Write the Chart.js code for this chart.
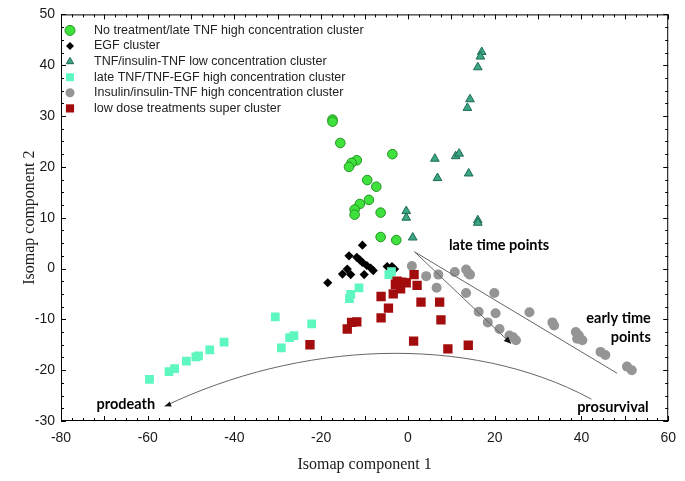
<!DOCTYPE html>
<html>
<head>
<meta charset="utf-8">
<script src="https://cdn.jsdelivr.net/npm/chart.js@4.4.0/dist/chart.umd.min.js"></script>
<style>
    html, body { margin: 0; padding: 0; background: #fff; }
    #wrap { width: 685px; height: 481px; }
</style>
</head>
<body>
<div id="wrap"><canvas id="isomap-chart" width="685" height="481"></canvas></div>
<script>
// cluster points, [component 1, component 2]
var noTreatment = [[-17.4, 29.3], [-17.4, 28.9], [-15.6, 24.7], [-3.6, 22.5], [-11.8, 21.3], [-13.0, 20.8],
    [-13.6, 20.0], [-9.4, 17.4], [-7.3, 16.1], [-9.0, 13.5], [-11.1, 12.7], [-12.3, 11.6], [-12.3, 10.6],
    [-6.3, 11.0], [-6.3, 6.2], [-2.7, 5.6]];
var egfCluster = [[-10.5, 4.6], [-13.6, 2.5], [-11.8, 2.2], [-11.1, 1.7], [-10.5, 1.2], [-9.5, 0.6], [-8.6, 0.1],
    [-8.0, -0.4], [-4.8, 0.4], [-3.7, 0.4], [-3.1, -0.1], [-14.0, -0.1], [-15.1, -1.1], [-13.2, -1.2],
    [-10.1, -1.2], [-18.5, -2.8]];
var tnfLow = [[17.0, 42.6], [16.7, 41.7], [16.1, 39.6], [14.3, 33.3], [13.7, 31.6], [6.2, 21.6], [11.0, 22.1],
    [11.8, 22.6], [6.8, 17.8], [14.0, 18.7], [-0.4, 11.3], [-0.4, 10.0], [16.1, 9.5], [16.1, 9.0], [1.1, 6.1]];
var lateTnfHigh = [[-59.6, -21.8], [-55.1, -20.3], [-53.8, -19.7], [-51.1, -18.2], [-48.9, -17.4], [-48.3, -17.2],
    [-45.7, -16.0], [-42.4, -14.5], [-30.6, -9.5], [-29.2, -15.6], [-27.3, -13.6], [-26.3, -13.2], [-22.2, -10.9],
    [-13.5, -5.9], [-13.2, -5.1], [-11.3, -3.8], [-4.4, -1.2], [-3.8, -0.6]];
var insulinHigh = [[0.9, 0.5], [4.2, -1.5], [7.0, -1.2], [6.6, -3.8], [10.8, -0.7], [13.4, -0.2], [13.9, -0.9],
    [14.3, -1.2], [13.4, -4.8], [19.9, -4.8], [16.3, -8.5], [20.2, -8.8], [18.4, -10.6], [21.1, -11.9],
    [23.4, -13.2], [24.2, -13.5], [24.9, -14.1], [28.0, -8.6], [33.3, -10.6], [33.7, -11.2], [38.7, -12.5],
    [39.4, -13.2], [39.0, -13.8], [40.2, -14.1], [44.4, -16.4], [45.5, -17.0], [50.5, -19.3], [51.6, -20.0]];
var lowDose = [[1.4, -1.2], [-2.5, -2.5], [-1.4, -2.7], [-0.4, -2.8], [-2.9, -3.1], [-1.7, -4.0], [-3.4, -5.0],
    [2.1, -3.3], [-6.2, -5.5], [3.0, -6.6], [7.3, -6.6], [-4.5, -7.8], [-6.2, -9.7], [7.6, -10.1],
    [-11.8, -10.5], [-13.0, -10.6], [-14.0, -11.9], [1.3, -14.3], [9.2, -15.8], [13.9, -15.1], [-22.6, -15.0]];

var clusterLabels = ['No treatment/late TNF high concentration cluster', 'EGF cluster',
    'TNF/insulin-TNF low concentration cluster', 'late TNF/TNF-EGF high concentration cluster',
    'Insulin/insulin-TNF high concentration cluster', 'low dose treatments super cluster'];

// annotation anchors, in data units
var timeTip = [1.5, 3.3], timeUpperEnd = [48.2, -20.6], timeArrowEnd = [23.8, -14.8];
var arcStart = [-56.1, -27.1], arcCtrl1 = [-25.4, -14.5], arcCtrl2 = [13.5, -12.5], arcEnd = [42.3, -25.7];
var notes = [
    { text: 'late time points', x: 21.0, y: 4.6, align: 'center' },
    { text: 'early time', x: 56.0, y: -9.8, align: 'right' },
    { text: 'points', x: 56.0, y: -13.5, align: 'right' },
    { text: 'prodeath', x: -71.8, y: -26.7, align: 'left' },
    { text: 'prosurvival', x: 39.0, y: -27.3, align: 'left' }
];

function toXY(list) {
    return list.map(function (p) { return { x: p[0], y: p[1] }; });
}

var frameTicks = {
    id: 'frameTicks',
    afterDraw: function (chart) {
        var ctx = chart.ctx, a = chart.chartArea;
        var sx = chart.scales.x, sy = chart.scales.y;
        ctx.save();
        ctx.strokeStyle = '#000';
        ctx.lineWidth = 1;
        ctx.strokeRect(a.left + 0.5, a.top + 0.5, a.right - a.left - 1, a.bottom - a.top - 1);
        ctx.beginPath();
        for (var v = -80; v <= 60; v += 2.5) {
            var len = (v % 10 === 0) ? 5 : 3;
            var px = Math.round(sx.getPixelForValue(v)) + 0.5;
            ctx.moveTo(px, a.bottom); ctx.lineTo(px, a.bottom - len);
            ctx.moveTo(px, a.top); ctx.lineTo(px, a.top + len);
        }
        for (var w = -30; w <= 50; w += 2.5) {
            var l2 = (w % 10 === 0) ? 5 : 3;
            var py = Math.round(sy.getPixelForValue(w)) + 0.5;
            ctx.moveTo(a.left, py); ctx.lineTo(a.left + l2, py);
            ctx.moveTo(a.right, py); ctx.lineTo(a.right - l2, py);
        }
        ctx.stroke();
        ctx.restore();
    }
};

function arrowHead(ctx, fx, fy, tx, ty, size) {
    var ang = Math.atan2(ty - fy, tx - fx);
    ctx.beginPath();
    ctx.moveTo(tx, ty);
    ctx.lineTo(tx - size * Math.cos(ang - 0.4), ty - size * Math.sin(ang - 0.4));
    ctx.lineTo(tx - size * Math.cos(ang + 0.4), ty - size * Math.sin(ang + 0.4));
    ctx.closePath();
    ctx.fill();
}

var notesPlugin = {
    id: 'notesPlugin',
    afterDatasetsDraw: function (chart) {
        var ctx = chart.ctx, sx = chart.scales.x, sy = chart.scales.y;
        function P(p) { return [sx.getPixelForValue(p[0]), sy.getPixelForValue(p[1])]; }
        ctx.save();
        ctx.strokeStyle = '#666';
        ctx.fillStyle = '#111';
        ctx.lineWidth = 1;
        ctx.lineJoin = 'round';

        var t = P(timeTip), u = P(timeUpperEnd), e = P(timeArrowEnd);
        ctx.beginPath();
        ctx.moveTo(u[0], u[1]);
        ctx.lineTo(t[0], t[1]);
        ctx.lineTo(e[0], e[1]);
        ctx.stroke();
        arrowHead(ctx, t[0], t[1], e[0], e[1], 8);

        var s = P(arcStart), c1 = P(arcCtrl1), c2 = P(arcCtrl2), en = P(arcEnd);
        ctx.beginPath();
        ctx.moveTo(s[0], s[1]);
        ctx.bezierCurveTo(c1[0], c1[1], c2[0], c2[1], en[0], en[1]);
        ctx.stroke();
        arrowHead(ctx, s[0] + 8, s[1] - 3, s[0], s[1], 7);

        ctx.font = 'bold 14.5px Lato, "DejaVu Sans", sans-serif';
        ctx.textBaseline = 'middle';
        ctx.fillStyle = '#000';
        notes.forEach(function (n) {
            ctx.textAlign = n.align;
            ctx.fillText(n.text, sx.getPixelForValue(n.x), sy.getPixelForValue(n.y));
        });
        ctx.restore();
    }
};

var legendBox = {
    id: 'legendBox',
    afterDatasetsDraw: function (chart) {
        var ctx = chart.ctx, a = chart.chartArea;
        ctx.save();
        ctx.textBaseline = 'middle';
        ctx.textAlign = 'left';
        ctx.font = '12.5px "Liberation Sans", Arial, sans-serif';
        chart.data.datasets.forEach(function (ds, i) {
            var y = a.top + 16 + i * 15.6;
            ctx.fillStyle = ds.backgroundColor;
            ctx.strokeStyle = ds.borderColor;
            ctx.lineWidth = ds.borderWidth;
            Chart.helpers.drawPoint(ctx, {
                pointStyle: ds.pointStyle,
                radius: ds.legendRadius,
                borderWidth: ds.borderWidth,
                rotation: 0
            }, a.left + 9, y);
            ctx.fillStyle = '#222';
            ctx.fillText(ds.label, a.left + 33, y);
        });
        ctx.restore();
    }
};

var datasets = [
    { label: clusterLabels[0], data: toXY(noTreatment), pointStyle: 'circle', pointRadius: 4.8, legendRadius: 5,
      backgroundColor: '#3fe23c', borderColor: '#239323', borderWidth: 1, order: 3 },
    { label: clusterLabels[1], data: toXY(egfCluster), pointStyle: 'rectRot', pointRadius: 4.6, legendRadius: 4,
      backgroundColor: '#000', borderColor: '#000', borderWidth: 0, order: 4 },
    { label: clusterLabels[2], data: toXY(tnfLow), pointStyle: 'triangle', pointRadius: 5, legendRadius: 4.2,
      backgroundColor: '#3aa684', borderColor: '#1d6a54', borderWidth: 1, order: 5 },
    { label: clusterLabels[3], data: toXY(lateTnfHigh), pointStyle: 'rect', pointRadius: 6.2, legendRadius: 5.6,
      backgroundColor: '#5ef7bf', borderColor: '#5ef7bf', borderWidth: 0, order: 2 },
    { label: clusterLabels[4], data: toXY(insulinHigh), pointStyle: 'circle', pointRadius: 5, legendRadius: 4.5,
      backgroundColor: '#959595', borderColor: '#959595', borderWidth: 0, order: 6 },
    { label: clusterLabels[5], data: toXY(lowDose), pointStyle: 'rect', pointRadius: 6.6, legendRadius: 5.8,
      backgroundColor: '#a30c0c', borderColor: '#a30c0c', borderWidth: 0, order: 1 }
];

var IsomapChart = new Chart(document.getElementById('isomap-chart'), {
    type: 'scatter',
    data: { datasets: datasets },
    plugins: [frameTicks, notesPlugin, legendBox],
    options: {
        responsive: false,
        animation: false,
        devicePixelRatio: 1,
        layout: { padding: { left: 0, right: 12, top: 8, bottom: 0 } },
        plugins: {
            legend: { display: false },
            tooltip: { enabled: false }
        },
        scales: {
            x: {
                type: 'linear',
                min: -80,
                max: 60,
                afterFit: function (scale) { scale.height = 60; },
                grid: { display: false, drawTicks: false },
                border: { display: false },
                ticks: {
                    stepSize: 20,
                    padding: 9,
                    color: '#1a1a1a',
                    font: { family: '"Liberation Sans", Arial, sans-serif', size: 14 }
                },
                title: {
                    display: true,
                    text: 'Isomap component 1',
                    color: '#1a1a1a',
                    font: { family: '"Liberation Serif", "Times New Roman", serif', size: 16 },
                    padding: { top: 0, bottom: 6.4 }
                }
            },
            y: {
                type: 'linear',
                min: -30,
                max: 50,
                afterFit: function (scale) { scale.width = 61; },
                grid: { display: false, drawTicks: false },
                border: { display: false },
                ticks: {
                    stepSize: 10,
                    padding: 6,
                    color: '#1a1a1a',
                    font: { family: '"Liberation Sans", Arial, sans-serif', size: 14 }
                },
                title: {
                    display: true,
                    text: 'Isomap component 2',
                    color: '#1a1a1a',
                    font: { family: '"Liberation Serif", "Times New Roman", serif', size: 16 },
                    padding: { top: 20.4, bottom: 0 }
                }
            }
        }
    }
});
</script>
</body>
</html>
